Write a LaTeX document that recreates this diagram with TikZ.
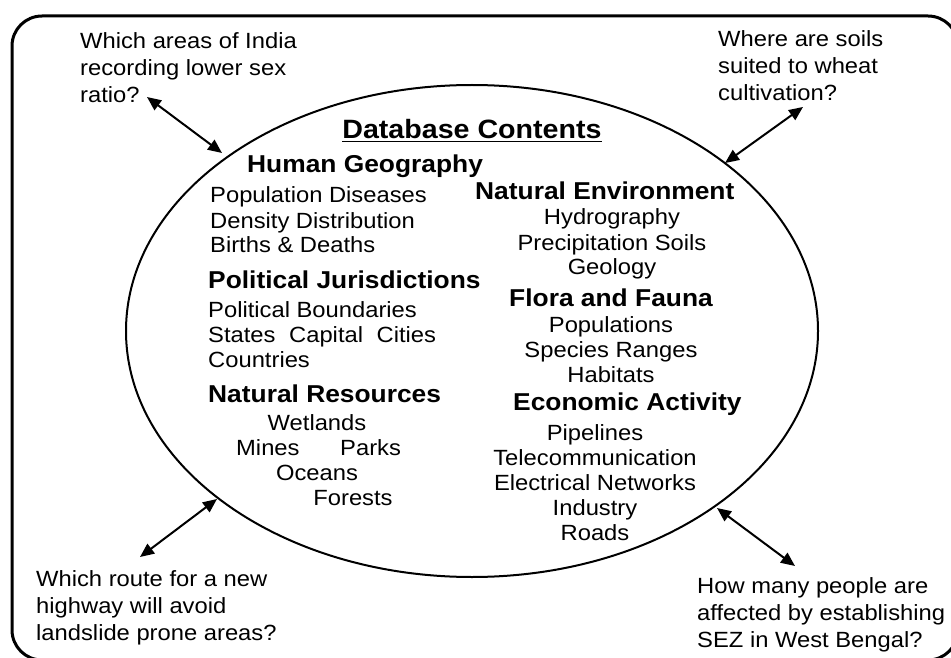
\documentclass[tikz,border=0pt]{standalone}
\usepackage{fontspec}
\setmainfont{Liberation Sans}[FakeStretch=1.08]
\usetikzlibrary{arrows.meta}
\newcommand\mylines[2]{\begin{tabular}[t]{@{}#1@{}}#2\end{tabular}}
\tikzset{
  qtext/.style={inner sep=0pt, anchor=base west, font=\fontsize{22}{27}\selectfont},
  bodytext/.style={inner sep=0pt, font=\fontsize{22}{25}\selectfont},
  headtext/.style={inner sep=0pt, font=\fontsize{24.4}{28}\selectfont\bfseries},
  titletext/.style={inner sep=0pt, font=\fontsize{26.5}{30}\selectfont\bfseries},
  biarrow/.style={line width=2pt, {Triangle[length=14pt,width=12pt]}-{Triangle[length=14pt,width=12pt]}}
}
\begin{document}
\begin{tikzpicture}[x=1pt,y=-1pt]
\useasboundingbox (0,0) rectangle (951,658);
\fill[white] (0,0) rectangle (951,658);
\clip (0,0) rectangle (951,658);
% outer frame
\draw[line width=3pt, rounded corners=30pt] (12,16) rectangle (958,660);
% ellipse
\draw[line width=2pt] (472,331) ellipse [x radius=346, y radius=246];

% title
\node[titletext, anchor=base] (title) at (472,139) {Database Contents};
\draw[line width=1.8pt] ([yshift=-2.6pt]title.base west) -- ([yshift=-2.6pt]title.base east);

% left column
\node[headtext, anchor=base west] (hg) at (247,173) {Human Geography};
\node[bodytext, anchor=base west] (hgl) at (210,203) {\mylines{l}{Population Diseases\\Density Distribution\\Births \& Deaths}};
\node[headtext, anchor=base west] (pj) at (208,288) {Political Jurisdictions};
\node[bodytext, anchor=base west] (pjl) at (208,317) {\mylines{l}{Political Boundaries\\States\hspace{7pt} Capital\hspace{7pt} Cities\\Countries}};
\node[headtext, anchor=base west] (nr) at (208,402) {Natural Resources};
\node[bodytext, anchor=base] (wet) at (317,430) {Wetlands};
\node[bodytext, anchor=base west] (mines) at (236,455) {Mines};
\node[bodytext, anchor=base west] (parks) at (340,455) {Parks};
\node[bodytext, anchor=base] (oce) at (317,480) {Oceans};
\node[bodytext, anchor=base] (fore) at (353,505) {Forests};

% right column
\node[headtext, anchor=base west] (ne) at (475,200) {Natural Environment};
\node[bodytext, anchor=base] (nel) at (612,225) {\mylines{c}{Hydrography\\Precipitation Soils\\Geology}};
\node[headtext, anchor=base] (ff) at (611,306) {Flora and Fauna};
\node[bodytext, anchor=base] (ffl) at (611,332) {\mylines{c}{Populations\\Species Ranges\\Habitats}};
\node[headtext, anchor=base west] (ea) at (513,410) {Economic Activity};
\node[bodytext, anchor=base] (eal) at (595,440) {\mylines{c}{Pipelines\\Telecommunication\\Electrical Networks\\Industry\\Roads}};

% questions
\node[qtext] (q1) at (80,48.3) {\mylines{l}{Which areas of India\\recording lower sex\\ratio?}};
\node[qtext] (q2) at (718,46.7) {\mylines{l}{Where are soils\\suited to wheat\\cultivation?}};
\node[qtext] (q3) at (36,586) {\mylines{l}{Which route for a new\\highway will avoid\\landslide prone areas?}};
\node[qtext] (q4) at (697,593) {\mylines{l}{How many people are\\affected by establishing\\SEZ in West Bengal?}};

% arrow ends
\coordinate (a1s) at (147,97);  \coordinate (a1e) at (222,153);
\coordinate (a2s) at (803,107); \coordinate (a2e) at (725,163);
\coordinate (a3s) at (140,557); \coordinate (a3e) at (217,499);
\coordinate (a4s) at (795,566); \coordinate (a4e) at (717,508);
\draw[biarrow] (a1s) -- (a1e);
\draw[biarrow] (a2s) -- (a2e);
\draw[biarrow] (a3s) -- (a3e);
\draw[biarrow] (a4s) -- (a4e);
\end{tikzpicture}
\end{document}
